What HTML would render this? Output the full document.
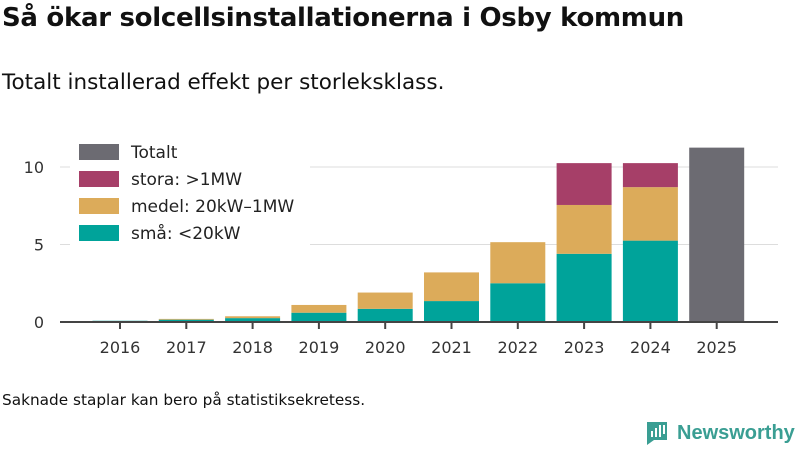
<!DOCTYPE html>
<html><head><meta charset="utf-8">
<style>
body{margin:0;width:800px;height:450px;background:#fff;font-family:"Liberation Sans","DejaVu Sans",sans-serif;overflow:hidden;position:relative;color:#111}
.t{position:absolute;left:2px;top:3px;font-size:26px;font-weight:bold;font-family:"DejaVu Sans","Liberation Sans",sans-serif;letter-spacing:-0.3px}
.s{position:absolute;left:2px;top:70px;font-size:21.5px;font-family:"DejaVu Sans",sans-serif}
.n{position:absolute;left:2px;top:391px;font-size:15.3px;font-family:"DejaVu Sans",sans-serif}
</style></head><body>
<div class="t">Så ökar solcellsinstallationerna i Osby kommun</div>
<div class="s">Totalt installerad effekt per storleksklass.</div>
<div class="n">Saknade staplar kan bero på statistiksekretess.</div>
<svg id="c" width="800" height="450" style="position:absolute;left:0;top:0"></svg>
<script>
const years=["2016","2017","2018","2019","2020","2021","2022","2023","2024","2025"];
const sma=[0.08,0.15,0.25,0.6,0.85,1.35,2.5,4.4,5.25,0];
const medel=[0,0.05,0.12,0.5,1.05,1.85,2.65,3.15,3.45,0];
const stora=[0,0,0,0,0,0,0,2.7,1.55,0];
const totalt=[0,0,0,0,0,0,0,0,0,11.25];
const yTicks=[0,5,10];
const NS="http://www.w3.org/2000/svg";
const svg=document.getElementById('c');
const y=v=>322-v*15.5;
const x=i=>120+i*66.3;
const bw=55;
function el(t,a){const e=document.createElementNS(NS,t);for(const k in a)e.setAttribute(k,a[k]);svg.appendChild(e);return e;}
yTicks.forEach(t=>{
 if(t>0){const g=el('line',{x1:60,x2:778,y1:y(t),y2:y(t),stroke:'#ddd','stroke-width':1});
 
 }
 const tx=el('text',{x:44,y:y(t)+6,'text-anchor':'end','font-size':16,fill:'#333','font-family':'DejaVu Sans,sans-serif'});tx.textContent=t;
 
 
});
const series=[[sma,'#00a39a','bar-sma'],[medel,'#dcab5a','bar-medel'],[stora,'#a63f68','bar-stora'],[totalt,'#6c6b72','bar-totalt']];
years.forEach((yr,i)=>{
 let base=0;
 series.forEach(([arr,col,nm])=>{
  const v=arr[i]; if(v<=0)return;
  const r=el('rect',{x:x(i)-bw/2,y:y(base+v),width:bw,height:v*15.5,fill:col});
  
  
  base+=v;
 });
 const tk=el('line',{x1:x(i),x2:x(i),y1:322,y2:329,stroke:'#444','stroke-width':2});
 
 
 const tl=el('text',{x:x(i),y:353,'text-anchor':'middle','font-size':16,fill:'#333','font-family':'DejaVu Sans,sans-serif'});tl.textContent=yr;
 
 
});
const ax=el('line',{x1:60,x2:778,y1:322,y2:322,stroke:'#444','stroke-width':2});


const lg=[['Totalt','#6c6b72'],['stora: >1MW','#a63f68'],['medel: 20kW–1MW','#dcab5a'],['små: <20kW','#00a39a']];
lg.forEach(([t,c],i)=>{
 const bg=el('rect',{x:70,y:140+i*27,width:240,height:27,fill:'#fff'});
 
 
 const r=el('rect',{x:79,y:144+i*27,width:40,height:16,fill:c});
 
 
 const tx=el('text',{x:131,y:158+i*27,'font-size':17,fill:'#222','font-family':'DejaVu Sans,sans-serif'});tx.textContent=t;
 
 
});
</script>
<div style="position:absolute;left:645px;top:420px;display:flex;align-items:center;gap:10px">
<svg width="22" height="26"><path d="M2 2h20v18h-13l-7 5z" fill="#3a9e93"/><rect x="6" y="11" width="2" height="6" fill="#fff"/><rect x="10" y="8" width="2" height="9" fill="#fff"/><rect x="14" y="5" width="2" height="12" fill="#fff"/><rect x="18" y="5" width="2" height="9" fill="#fff"/></svg>
<span style="font-size:20px;color:#3a9e93;font-family:'Liberation Sans',sans-serif;font-weight:bold">Newsworthy</span></div>
</body></html>
